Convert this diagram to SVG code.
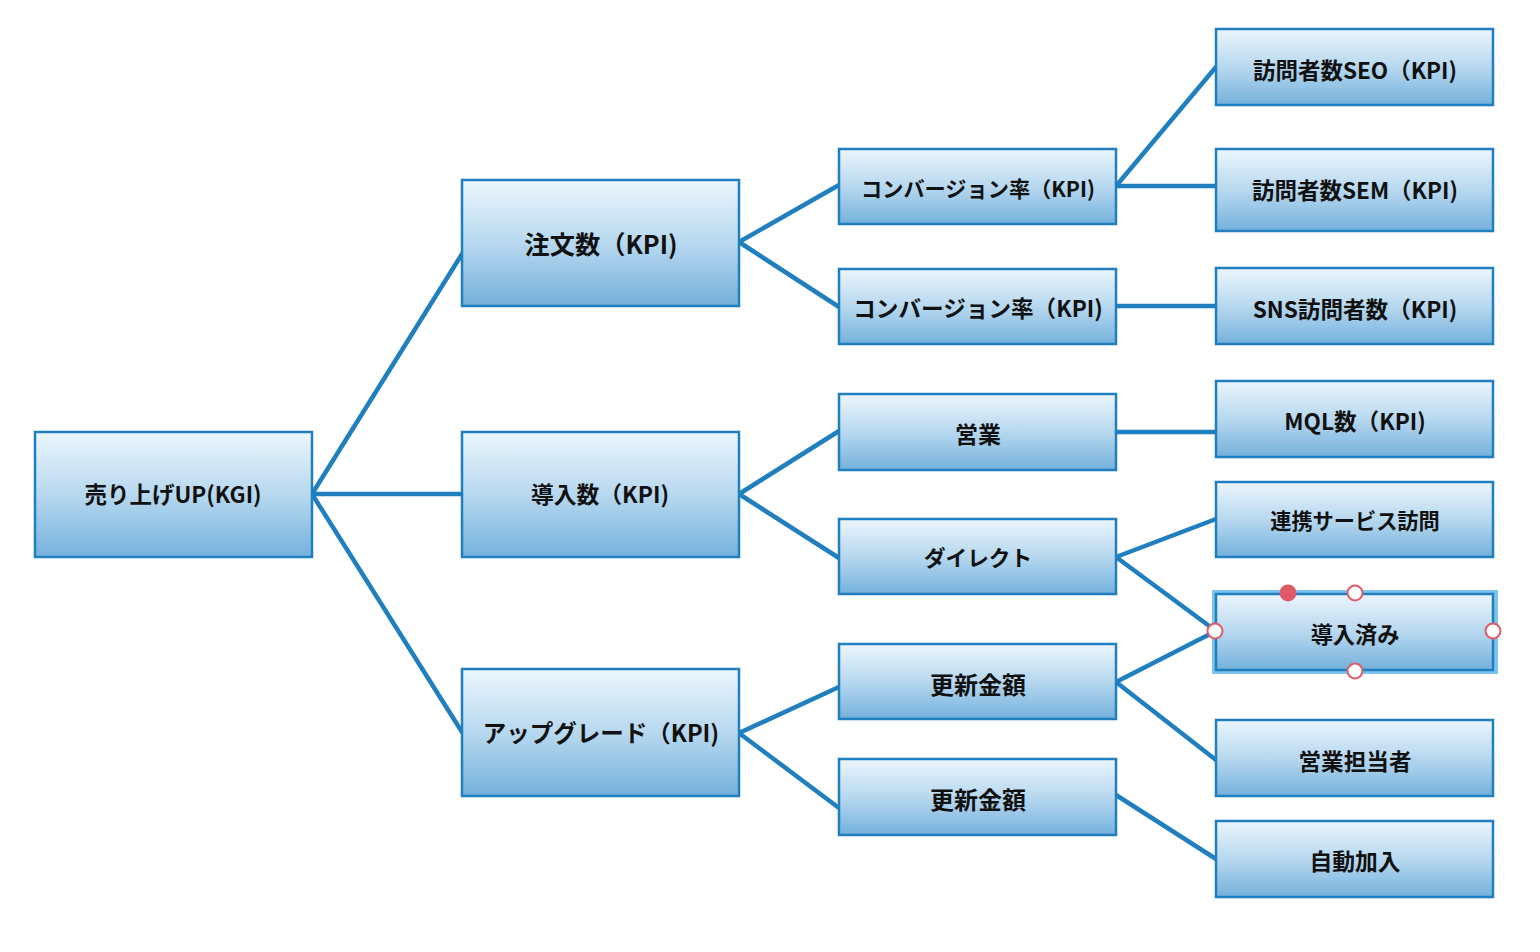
<svg xmlns="http://www.w3.org/2000/svg" width="1540" height="952" viewBox="0 0 1540 952">
<defs>
<linearGradient id="g" x1="0" y1="0" x2="0" y2="1">
<stop offset="0" stop-color="#ecf6fd"/>
<stop offset="0.5" stop-color="#b7d8ef"/>
<stop offset="1" stop-color="#74b1dc"/>
</linearGradient>
<style>
.box{fill:url(#g);stroke:#1f7fbf;stroke-width:2.5}
.lbl{font-family:"Noto Sans CJK JP","Noto Sans",sans-serif;font-weight:700;fill:#111;text-anchor:middle;dominant-baseline:central}
.c{stroke:#1f7fbf;stroke-width:4.5;fill:none;stroke-linecap:round}
.sel{fill:none;stroke:#7cc4ec;stroke-width:4}
.h{fill:#fff;stroke:#e05a6a;stroke-width:2}
.hf{fill:#e05a6a}
</style>
</defs>
<rect width="1540" height="952" fill="#fff"/>
<g id="connectors">
<line class="c" x1="312" y1="494" x2="462" y2="254"/>
<line class="c" x1="312" y1="494" x2="462" y2="494"/>
<line class="c" x1="312" y1="494" x2="462" y2="732"/>
<line class="c" x1="739" y1="242" x2="839" y2="185"/>
<line class="c" x1="739" y1="242" x2="839" y2="307"/>
<line class="c" x1="739" y1="494" x2="839" y2="431"/>
<line class="c" x1="739" y1="494" x2="839" y2="558"/>
<line class="c" x1="739" y1="733" x2="839" y2="687"/>
<line class="c" x1="739" y1="733" x2="839" y2="808"/>
<line class="c" x1="1116" y1="186" x2="1216" y2="67"/>
<line class="c" x1="1116" y1="186" x2="1216" y2="186"/>
<line class="c" x1="1116" y1="306" x2="1216" y2="306"/>
<line class="c" x1="1116" y1="432" x2="1216" y2="432"/>
<line class="c" x1="1116" y1="557" x2="1216" y2="519"/>
<line class="c" x1="1116" y1="557" x2="1216" y2="631"/>
<line class="c" x1="1116" y1="682" x2="1216" y2="631"/>
<line class="c" x1="1116" y1="682" x2="1216" y2="760"/>
<line class="c" x1="1116" y1="795" x2="1216" y2="859"/>
</g>
<g id="n-root"><rect class="box" x="35" y="432" width="277" height="125"/><text class="lbl" x="173" y="493" font-size="22.5">売り上げUP(KGI)</text></g>
<g id="n-order"><rect class="box" x="462" y="180" width="277" height="126"/><text class="lbl" x="601" y="243" font-size="25.3">注文数（KPI)</text></g>
<g id="n-intro"><rect class="box" x="462" y="432" width="277" height="125"/><text class="lbl" x="600" y="493" font-size="22.8">導入数（KPI)</text></g>
<g id="n-upgrade"><rect class="box" x="462" y="669" width="277" height="127"/><text class="lbl" x="601" y="732" font-size="23.5">アップグレード（KPI)</text></g>
<g id="n-cv1"><rect class="box" x="839" y="149" width="277" height="75"/><text class="lbl" x="978" y="187" font-size="21.2">コンバージョン率（KPI)</text></g>
<g id="n-cv2"><rect class="box" x="839" y="269" width="277" height="75"/><text class="lbl" x="978" y="307" font-size="22.6">コンバージョン率（KPI)</text></g>
<g id="n-sales"><rect class="box" x="839" y="394" width="277" height="76"/><text class="lbl" x="978" y="433" font-size="23">営業</text></g>
<g id="n-direct"><rect class="box" x="839" y="519" width="277" height="75"/><text class="lbl" x="978" y="556" font-size="21.6">ダイレクト</text></g>
<g id="n-renew1"><rect class="box" x="839" y="644" width="277" height="75"/><text class="lbl" x="978" y="683" font-size="24">更新金額</text></g>
<g id="n-renew2"><rect class="box" x="839" y="759" width="277" height="76"/><text class="lbl" x="978" y="798" font-size="24">更新金額</text></g>
<g id="n-seo"><rect class="box" x="1216" y="29" width="277" height="76"/><text class="lbl" x="1355" y="68.5" font-size="22.5">訪問者数SEO（KPI)</text></g>
<g id="n-sem"><rect class="box" x="1216" y="149" width="277" height="82"/><text class="lbl" x="1355" y="189" font-size="22.5">訪問者数SEM（KPI)</text></g>
<g id="n-sns"><rect class="box" x="1216" y="268" width="277" height="76"/><text class="lbl" x="1355" y="308" font-size="22.6">SNS訪問者数（KPI)</text></g>
<g id="n-mql"><rect class="box" x="1216" y="381" width="277" height="76"/><text class="lbl" x="1355" y="420" font-size="22.6">MQL数（KPI)</text></g>
<g id="n-partner"><rect class="box" x="1216" y="482" width="277" height="75"/><text class="lbl" x="1355" y="519" font-size="21.2">連携サービス訪問</text></g>
<g id="n-installed">
<rect class="sel" x="1214" y="592" width="282" height="80"/>
<rect class="box" x="1216" y="594" width="277" height="76"/>
<text class="lbl" x="1355" y="633" font-size="22.2">導入済み</text>
<circle class="hf" cx="1288" cy="593" r="8.5"/>
<circle class="h" cx="1355" cy="593" r="7.5"/>
<circle class="h" cx="1215" cy="631" r="7.5"/>
<circle class="h" cx="1493" cy="631" r="7.5"/>
<circle class="h" cx="1355" cy="671" r="7.5"/>
</g>
<g id="n-rep"><rect class="box" x="1216" y="720" width="277" height="76"/><text class="lbl" x="1355" y="760" font-size="22.6">営業担当者</text></g>
<g id="n-auto"><rect class="box" x="1216" y="821" width="277" height="76"/><text class="lbl" x="1355" y="860" font-size="22.8">自動加入</text></g>
</svg>
